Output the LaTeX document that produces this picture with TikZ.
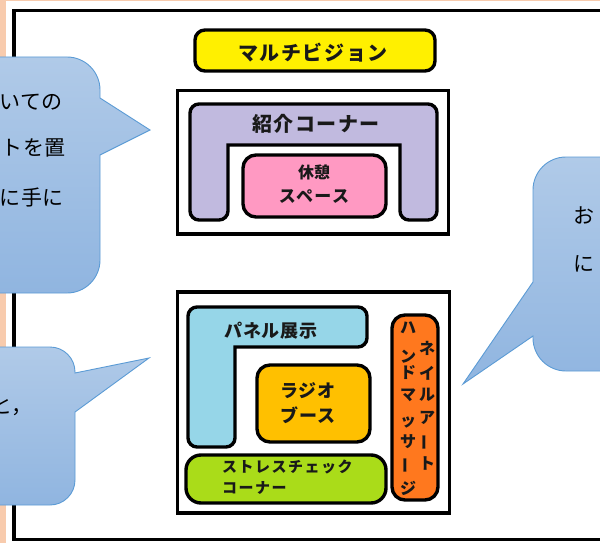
\documentclass[tikz,border=0pt]{standalone}
\usepackage{fontspec}
\setmainfont{Noto Sans CJK JP}
\definecolor{peach}{RGB}{248,203,173}
\definecolor{calloutline}{RGB}{91,155,213}
\definecolor{calltop}{RGB}{176,202,232}
\definecolor{callbot}{RGB}{144,181,224}
\definecolor{ylw}{RGB}{255,240,0}
\definecolor{lav}{RGB}{193,186,223}
\definecolor{pnk}{RGB}{255,153,194}
\definecolor{skyb}{RGB}{150,214,232}
\definecolor{gold}{RGB}{255,192,0}
\definecolor{lime}{RGB}{170,220,25}
\definecolor{orng}{RGB}{255,120,30}
\definecolor{ink}{RGB}{25,25,25}
\tikzset{
  x=1pt,y=-1pt,
  frame/.style={draw=black,line width=3.2pt,fill=white},
  room/.style={draw=black,line width=3.4pt,rounded corners=9pt},
  roombox/.style={room,inner sep=0pt,outer sep=0pt,anchor=north west},
  callout/.style={draw=calloutline,line width=0.9pt,top color=calltop,bottom color=callbot},
  label/.style={inner sep=0pt,text=ink,font=\fontsize{#1}{#1}\selectfont\bfseries},
  calltext/.style={inner sep=0pt,text=black,anchor=base east,font=\fontsize{21}{21}\selectfont},
}
\begin{document}
\begin{tikzpicture}
\useasboundingbox (0,0) rectangle (600,543);
\begin{scope}
\clip (0,0) rectangle (600,543);
\fill[white] (0,0) rectangle (600,543);
\fill[peach] (0,0) rectangle (600,1.5);
\fill[peach] (0,0) rectangle (6,543);
% outer frame, open to the right
\draw[black,line width=3.4pt] (620,10.5) -- (14,10.5) -- (14,539.5) -- (620,539.5);
% upper and lower areas
\draw[frame] (177.5,90.5) rectangle (448.5,234);
\draw[frame] (177.5,292) rectangle (449.5,513);
% rooms
\node[roombox,fill=ylw,rounded corners=10pt,minimum width=240pt,minimum height=41pt] (vision) at (195,30) {};
\node[label=20] (visiontext) at (313,52.5) {\addfontfeatures{LetterSpace=8}マルチビジョン};
\draw[room,fill=lav] (190,220) -- (190,104) -- (437,104) -- (437,220) -- (400,220) [sharp corners] -- (400,145) -- (228,145) [rounded corners=9pt] -- (228,220) -- cycle;
\node[label=20] (intro) at (316,124) {\addfontfeatures{LetterSpace=8}紹介コーナー};
\node[roombox,fill=pnk,rounded corners=13pt,minimum width=143pt,minimum height=62pt] (rest) at (243,155) {};
\node[label=16] (resta) at (314,172) {休憩};
\node[label=17] (restb) at (314,197) {\addfontfeatures{LetterSpace=8}スペース};
\draw[room,fill=skyb] (188,447) -- (188,307) -- (367,307) -- (367,347) [sharp corners] -- (235,347) [rounded corners=9pt] -- (235,447) -- cycle;
\node[label=18] (panel) at (271,331) {\addfontfeatures{LetterSpace=5}パネル展示};
\node[roombox,fill=gold,rounded corners=13pt,minimum width=113pt,minimum height=77pt] (radio) at (257,365) {};
\node[label=18] (radioa) at (308,391) {\addfontfeatures{LetterSpace=5}ラジオ};
\node[label=18] (radiob) at (308,415) {\addfontfeatures{LetterSpace=5}ブース};
\node[roombox,fill=lime,rounded corners=15pt,minimum width=200pt,minimum height=48pt] (stress) at (186,455) {};
\node[label=15,anchor=west] (stressa) at (222,467) {\addfontfeatures{LetterSpace=10}ストレスチェック};
\node[label=15,anchor=west] (stressb) at (222,488) {\addfontfeatures{LetterSpace=10}コーナー};
\node[roombox,fill=orng,rounded corners=13pt,minimum width=46pt,minimum height=185pt] (hand) at (392,315) {};
\foreach \c/\y [count=\i] in {ハ/328,ン/357,ド/373,マ/395,ッ/422,サ/442,ジ/488}
  \node[label=16] (handl\i) at (408,\y) {\c};
\node[label=16,rotate=90] (handlbar) at (408,465) {ー};
\foreach \c/\y [count=\i] in {ネ/348,イ/373,ル/395,ア/418,ト/463}
  \node[label=16] (handr\i) at (427,\y) {\c};
\node[label=16,rotate=90] (handrbar) at (427,442) {ー};
% callouts
\path[callout] (-40,57) -- (67,57) arc[start angle=-90,end angle=0,radius=33] -- (100,98) -- (150,130) -- (100,155) -- (100,260) arc[start angle=0,end angle=90,radius=33] -- (-40,293) -- cycle;
\path[callout] (-40,347) -- (50,347) arc[start angle=-90,end angle=0,radius=25] -- (75,373) -- (149,358) -- (75,412) -- (75,480) arc[start angle=0,end angle=90,radius=25] -- (-40,505) -- cycle;
\path[callout] (640,157) -- (566,157) arc[start angle=-90,end angle=-180,radius=33] -- (533,282) -- (463,384) -- (533,336) -- (533,338) arc[start angle=180,end angle=90,radius=33] -- (640,371) -- cycle;
% callout texts, cut by the picture's edge
\node[calltext] (tone) at (63,110) {\addfontfeatures{LetterSpace=3}いての};
\node[calltext] (ttwo) at (66,155) {\addfontfeatures{LetterSpace=3}トを置};
\node[calltext] (tthree) at (64,205) {\addfontfeatures{LetterSpace=3}に手に};
\node[calltext] (tfour) at (33,413) {と，};
\node[calltext,anchor=base west] (tfive) at (573,223) {お};
\node[calltext,anchor=base west] (tsix) at (573,271) {に};
\end{scope}
\end{tikzpicture}
\end{document}
